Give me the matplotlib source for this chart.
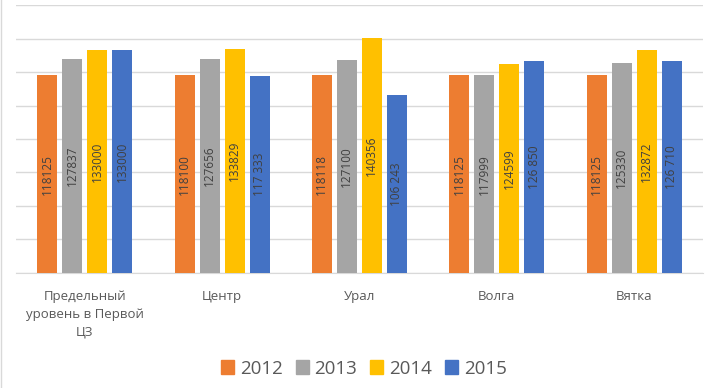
import numpy as np
import matplotlib
matplotlib.use("Agg")
import matplotlib.pyplot as plt
from matplotlib.patches import Patch

plt.rcParams["font.family"] = ["Open Sans", "DejaVu Sans"]

categories = ["Предельный\nуровень в Первой\nЦЗ", "Центр", "Урал", "Волга", "Вятка"]
years = ["2012", "2013", "2014", "2015"]
v2012 = [118125, 118100, 118118, 118125, 118125]
v2013 = [127837, 127656, 127100, 117999, 125330]
v2014 = [133000, 133829, 140356, 124599, 132872]
v2015 = [133000, 117333, 106243, 126850, 126710]
spaced_2015 = [False, True, True, True, True]  # labels of 2015 use a thousands space

series = [v2012, v2013, v2014, v2015]
colors = ["#ED7D31", "#A5A5A5", "#FFC000", "#4472C4"]

fig = plt.figure(figsize=(7.12, 3.88), dpi=100)
ax = fig.add_axes([0.0225, 0.2964, 0.9645, 0.6907])

x = np.arange(len(categories))
width = 0.146
step = 0.182

for i, (vals, col) in enumerate(zip(series, colors)):
    pos = x + (i - 1.5) * step
    bars = ax.bar(pos, vals, width, color=col, zorder=3)
    for j, (b, v) in enumerate(zip(bars, vals)):
        if i == 3 and spaced_2015[j]:
            lab = f"{v:,}".replace(",", " ")
        else:
            lab = str(v)
        ax.text(b.get_x() + b.get_width() / 2, v / 2, lab, rotation=90,
                ha="center", va="center", fontsize=8.5, color="#404040", zorder=4)

ax.set_xlim(-0.5, len(categories) - 0.5)
ax.set_ylim(0, 160000)
ax.set_yticks(np.arange(0, 160001, 20000))
ax.yaxis.grid(True, color="#D9D9D9", linewidth=1)
ax.set_axisbelow(True)
ax.tick_params(axis="y", left=False, labelleft=False)
ax.tick_params(axis="x", length=0, pad=12, labelsize=9.5, labelcolor="#595959")
ax.set_xticks(x)
ax.set_xticklabels(categories, linespacing=1.5, va="top")
for s in ["top", "right", "left"]:
    ax.spines[s].set_visible(False)
ax.spines["bottom"].set_color("#D9D9D9")

handles = [Patch(color=c, label=y) for c, y in zip(colors, years)]
fig.legend(handles=handles, loc="center", bbox_to_anchor=(0.511, 0.05), ncol=4,
           frameon=False, fontsize=13.5, handlelength=0.7, handleheight=0.7,
           handletextpad=0.3, columnspacing=0.7, labelcolor="#595959")

fig.add_artist(plt.Line2D([0.001, 0.001], [0, 1], color="#D9D9D9", linewidth=1,
                          transform=fig.transFigure))

fig.savefig("out.png", dpi=100)
